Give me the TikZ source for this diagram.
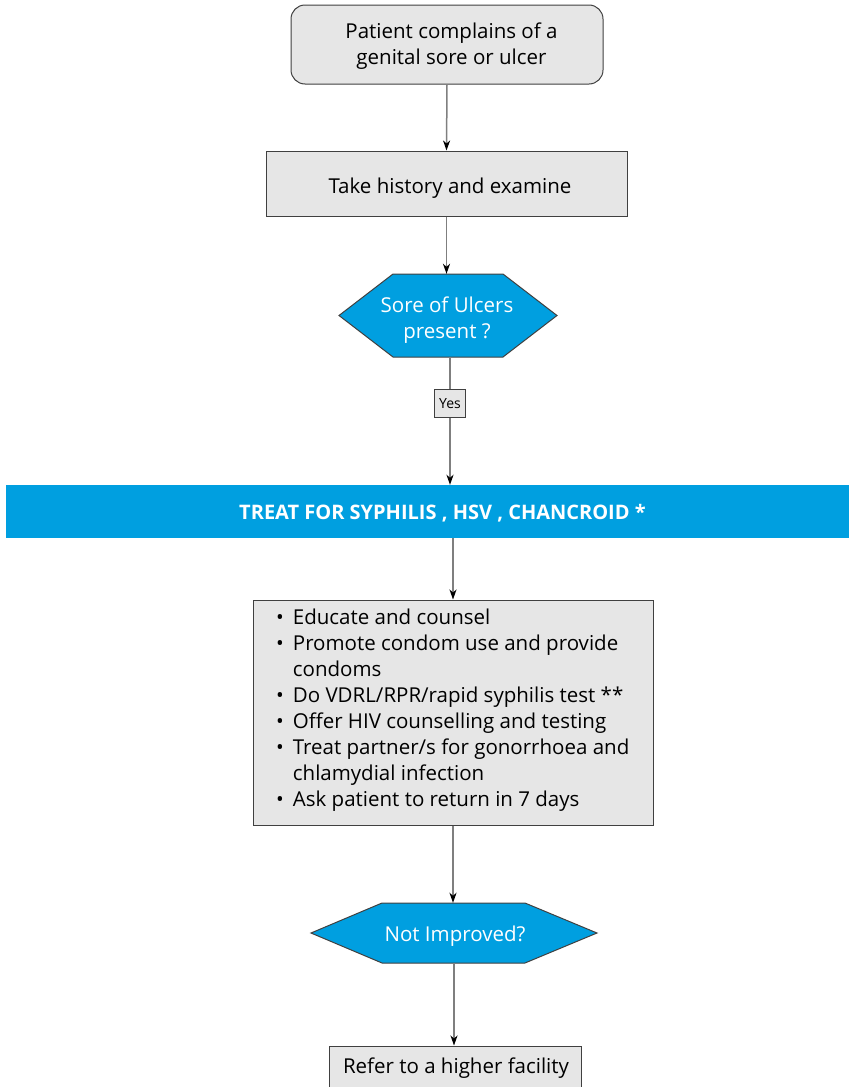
\documentclass[tikz,border=0pt]{standalone}
\usepackage{fontspec}
\setmainfont{Open Sans}
\usetikzlibrary{arrows.meta}
\definecolor{boxgray}{HTML}{E6E6E6}
\definecolor{edgegray}{HTML}{404040}
\definecolor{linegray}{HTML}{7F7F7F}
\definecolor{flowblue}{HTML}{009FE0}
\tikzset{
  x=1pt, y=-1pt,
  every node/.style={font=\fontsize{20.5}{26}\selectfont, inner sep=0pt},
  graybox/.style={draw=edgegray, line width=1pt, fill=boxgray},
  hexshape/.style={draw=edgegray, line width=1pt, fill=flowblue},
  boxtext/.style={align=center},
  hextext/.style={text=white, align=center},
  flow/.style={draw=linegray, line width=1.5pt, -{Stealth[length=10pt,width=7pt,inset=3pt,fill=black,color=black]}},
  plain/.style={draw=linegray, line width=1.5pt},
}
\begin{document}
\begin{tikzpicture}
\useasboundingbox (0,0) rectangle (849,1087);

% start
\node[graybox, rounded corners=14pt, minimum width=312pt, minimum height=79pt] (start) at (447,44.5) {};
\node[boxtext] (starttext) at (451.5,46.5) {Patient complains of a\\genital sore or ulcer};

% history
\node[graybox, minimum width=361pt, minimum height=65pt] (hist) at (446.5,183.5) {};
\node[boxtext] (histtext) at (450,188.5) {Take history and examine};

% first decision
\draw[hexshape] (339,315.5) -- (393,274) -- (503,274) -- (557,315.5) -- (503,357) -- (393,357) -- cycle;
\node[minimum width=218pt, minimum height=83pt] (q1) at (448,315.5) {};
\node[hextext] (q1text) at (447,320) {Sore of Ulcers\\present ?};

% yes label
\node[graybox, minimum width=31pt, minimum height=28pt] (yes) at (450,403) {};
\node[font=\fontsize{14}{16}\selectfont] (yestext) at (450,404) {Yes};

% treatment banner
\node[fill=flowblue, minimum width=843pt, minimum height=53pt] (treat) at (427.5,511.5) {};
\node[text=white, font=\fontsize{20}{24}\selectfont\bfseries] (treattext) at (442.5,513) {TREAT FOR SYPHILIS , HSV , CHANCROID *};

% actions
\node[graybox, minimum width=400pt, minimum height=225pt] (act) at (453,712.5) {};
\node[anchor=north west, align=left] (actlist) at (276,606) {%
\begin{tabular}{@{}l@{\hspace{9pt}}l@{}}
\textbullet & Educate and counsel\\
\textbullet & Promote condom use and provide\\
 & condoms\\
\textbullet & Do VDRL/RPR/rapid syphilis test **\\
\textbullet & Offer HIV counselling and testing\\
\textbullet & Treat partner/s for gonorrhoea and\\
 & chlamydial infection\\
\textbullet & Ask patient to return in 7 days
\end{tabular}};

% second decision
\draw[hexshape] (311,933) -- (382,903) -- (525,903) -- (597,933) -- (525,963) -- (382,963) -- cycle;
\node[minimum width=286pt, minimum height=60pt] (q2) at (454,933) {};
\node[hextext] (q2text) at (455,936) {Not Improved?};

% referral
\node[graybox, minimum width=252pt, minimum height=44pt] (refer) at (455.5,1068) {};
\node[boxtext] (refertext) at (456,1068) {Refer to a higher facility};

% connectors
\draw[flow] (start.south) -- (hist.north);
\draw[flow] (hist.south) -- (hist.south |- q1.north);
\draw[plain] (yes.north |- q1.south) -- (yes.north);
\draw[flow] (yes.south) -- (yes.south |- treat.north);
\draw[flow] (act.north |- treat.south) -- (act.north);
\draw[flow] (act.south) -- (act.south |- q2.north);
\draw[flow] (q2.south) -- (q2.south |- refer.north);
\end{tikzpicture}
\end{document}
